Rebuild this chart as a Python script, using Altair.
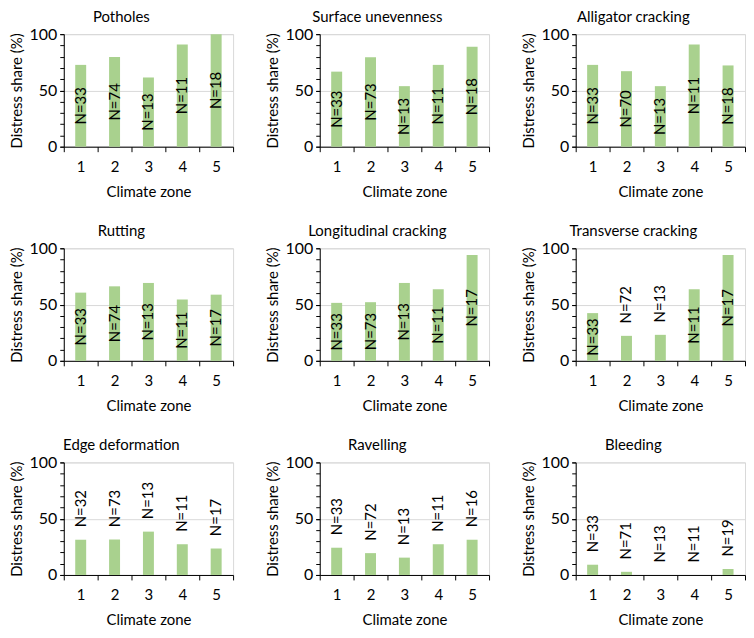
import altair as alt
import pandas as pd

zones = [1, 2, 3, 4, 5]

titles = ["Potholes", "Surface unevenness", "Alligator cracking",
          "Rutting", "Longitudinal cracking", "Transverse cracking",
          "Edge deformation", "Ravelling", "Bleeding"]

potholes = [72.7, 79.7, 61.5, 90.9, 100.0]
surface_unevenness = [66.7, 79.5, 53.8, 72.7, 88.9]
alligator_cracking = [72.7, 67.1, 53.8, 90.9, 72.2]
rutting = [60.6, 66.2, 69.2, 54.5, 58.8]
longitudinal_cracking = [51.5, 52.1, 69.2, 63.6, 94.1]
transverse_cracking = [42.4, 22.2, 23.1, 63.6, 94.1]
edge_deformation = [31.3, 31.5, 38.5, 27.3, 23.5]
ravelling = [24.2, 19.4, 15.4, 27.3, 31.3]
bleeding = [9.1, 2.8, 0.0, 0.0, 5.3]

n_potholes = [33, 74, 13, 11, 18]
n_surface = [33, 73, 13, 11, 18]
n_alligator = [33, 70, 13, 11, 18]
n_rutting = [33, 74, 13, 11, 17]
n_longitudinal = [33, 73, 13, 11, 17]
n_transverse = [33, 72, 13, 11, 17]
n_edge = [32, 73, 13, 11, 17]
n_ravelling = [33, 72, 13, 11, 16]
n_bleeding = [33, 71, 13, 11, 19]

major_ticks = [0, 50, 100]
minor_ticks = [0, 10, 20, 30, 40, 50, 60, 70, 80, 90, 100]

shares = [potholes, surface_unevenness, alligator_cracking, rutting,
          longitudinal_cracking, transverse_cracking, edge_deformation,
          ravelling, bleeding]
counts = [n_potholes, n_surface, n_alligator, n_rutting, n_longitudinal,
          n_transverse, n_edge, n_ravelling, n_bleeding]

FONT = "Lato"
GREEN = "#A9D18E"
YTITLE = "Distress share (%)"
PW, PH = 170, 113


def panel(title, vals, ns):
    df = pd.DataFrame({"zone": zones, "share": vals,
                       "label": [f"N={n}" for n in ns]})
    base = alt.Chart(df)
    xenc = alt.X("zone:O",
                 scale=alt.Scale(paddingInner=0, paddingOuter=0),
                 axis=alt.Axis(title="Climate zone", labelAngle=0,
                               tickBand="extent", tickSize=5,
                               tickColor="black", domainColor="black",
                               labelFontSize=15, titleFontSize=15,
                               titleFontWeight="normal", labelPadding=8,
                               titlePadding=10, labelColor="black",
                               titleColor="black", grid=False))
    yscale = alt.Scale(domain=[0, 100], nice=False)
    bars = base.mark_bar(color=GREEN, size=11).encode(
        x=xenc,
        y=alt.Y("share:Q", scale=yscale,
                axis=alt.Axis(title=YTITLE, orient="left",
                              values=major_ticks,
                              tickSize=4, tickColor="black",
                              domainColor="black", grid=True,
                              gridColor="#d9d9d9",
                              labelFontSize=16, titleFontSize=15,
                              titleFontWeight="normal", labelColor="black",
                              titleColor="black", labelPadding=3,
                              titlePadding=5)),
    )
    inside = base.transform_filter("datum.share >= 40").transform_calculate(
        ly="datum.share / 2").mark_text(
        angle=270, align="center", baseline="middle", fontSize=15,
        font=FONT, color="black").encode(
        x=xenc,
        y=alt.Y("ly:Q", scale=yscale,
                axis=alt.Axis(title=None, orient="left", values=minor_ticks,
                              labels=False, domain=False, grid=False,
                              tickSize=4, tickColor="black")),
        text="label:N")
    outside = base.transform_filter("datum.share < 40").transform_calculate(
        ly="datum.share + 11").mark_text(
        angle=270, align="left", baseline="middle", fontSize=15,
        font=FONT, color="black").encode(
        x=xenc, y=alt.Y("ly:Q", scale=yscale, axis=None),
        text="label:N")
    return alt.layer(bars, inside, outside).resolve_axis(
        y="independent").properties(
        width=PW, height=PH,
        title=alt.TitleParams(title, fontSize=15, fontWeight="normal",
                              anchor="middle", frame="bounds",
                              color="black", offset=1))


panels = [panel(t, v, n) for t, v, n in zip(titles, shares, counts)]
rows = [alt.hconcat(*panels[i:i + 3], spacing=30) for i in range(0, 9, 3)]
chart = alt.vconcat(*rows, spacing=23).configure(
    font=FONT, padding={"left": 0, "top": 0, "right": 0, "bottom": 0}
).configure_view(stroke="#d9d9d9", strokeWidth=1)

chart.save("out.html", embed_options={"renderer": "svg", "actions": False})
